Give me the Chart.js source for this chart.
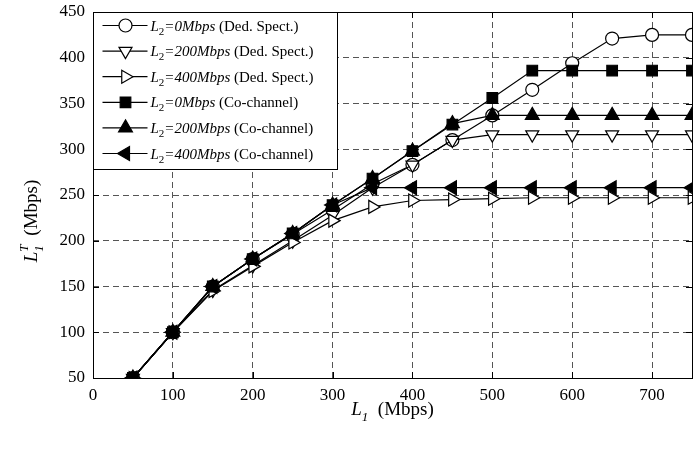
<!DOCTYPE html>
<html><head><meta charset="utf-8">
<script src="https://cdn.jsdelivr.net/npm/chart.js@4/dist/chart.umd.min.js"></script>
<style>html,body{margin:0;padding:0;background:#fff}#wrap{width:697px;height:449px}</style>
</head><body><div id="wrap"><canvas id="c" width="697" height="449"></canvas></div>
<script>
const loads = [50,100,150,200,250,300,350,400,450,500,550,600,650,700,750];
const xTicks = [0,100,200,300,400,500,600,700];
const yTicks = [50,100,150,200,250,300,350,400,450];
const ded0   = [50,100,150,180,207,234,262,283,310,337,365,394,421,425,425];
const ded200 = [50,100,146,173,200,228,258,283,310,316,316,316,316,316,316];
const ded400 = [50,100,145,172,198,222,237,244,245,246,247,247,247,247,247];
const co0    = [50,100,150,180,208,239,268,298,327,356,386,386,386,386,386];
const co200  = [50,100,150,180,208,239,268,298,328,337,337,337,337,337,337];
const co400  = [50,100,150,180,208,239,258,258,258,258,258,258,258,258,258];
const legendLoads = ['0Mbps','200Mbps','400Mbps','0Mbps','200Mbps','400Mbps'];
const legendKinds = ['Ded. Spect.','Ded. Spect.','Ded. Spect.','Co-channel','Co-channel','Co-channel'];

const SERIF = '"Liberation Serif", "Times New Roman", serif';
const styles = [
  {pointStyle:'circle', rotation:0, radius:6.5, fill:'#fff'},
  {pointStyle:'triangle', rotation:180, radius:7.5, fill:'#fff'},
  {pointStyle:'triangle', rotation:90, radius:7.5, fill:'#fff'},
  {pointStyle:'rect', rotation:0, radius:7.5, fill:'#000'},
  {pointStyle:'triangle', rotation:0, radius:8, fill:'#000'},
  {pointStyle:'triangle', rotation:270, radius:8, fill:'#000'}
];
const seriesData = [ded0, ded200, ded400, co0, co200, co400];

const datasets = seriesData.map((arr, i) => ({
  label: 'L2=' + legendLoads[i] + ' (' + legendKinds[i] + ')',
  data: loads.map((x, j) => ({x: x, y: arr[j]})),
  borderColor: '#000',
  borderWidth: 1.2,
  backgroundColor: styles[i].fill,
  pointStyle: styles[i].pointStyle,
  rotation: styles[i].rotation,
  pointRadius: styles[i].radius,
  pointBorderWidth: 1.2,
  pointBorderColor: '#000',
  pointBackgroundColor: styles[i].fill,
  tension: 0,
  fill: false,
  order: 6 - i
}));

function drawRich(ctx, parts, x, baseline) {
  let cx = x;
  for (const p of parts) {
    ctx.font = p.font;
    ctx.fillText(p.t, cx, baseline + (p.dy || 0));
    if (!p.noAdvance) cx += ctx.measureText(p.t).width;
  }
  return cx;
}
function richWidth(ctx, parts) {
  let w = 0;
  for (const p of parts) { ctx.font = p.font; if (!p.noAdvance) w += ctx.measureText(p.t).width; }
  return w;
}

const overlay = {
  id: 'overlay',
  afterDraw(chart) {
    const ctx = chart.ctx;
    const a = chart.chartArea;
    const xs = chart.scales.x, ys = chart.scales.y;
    ctx.save();
    ctx.strokeStyle = '#000';
    ctx.lineWidth = 1;
    ctx.setLineDash([]);
    ctx.strokeRect(Math.round(a.left) + 0.5, Math.round(a.top) + 0.5, Math.round(a.right - a.left), Math.round(a.bottom - a.top));
    ctx.beginPath();
    xTicks.forEach(v => {
      const px = Math.round(xs.getPixelForValue(v)) + 0.5;
      ctx.moveTo(px, a.bottom); ctx.lineTo(px, a.bottom - 6);
      ctx.moveTo(px, a.top); ctx.lineTo(px, a.top + 6);
    });
    yTicks.forEach(v => {
      const py = Math.round(ys.getPixelForValue(v)) + 0.5;
      ctx.moveTo(a.left, py); ctx.lineTo(a.left + 6, py);
      ctx.moveTo(a.right, py); ctx.lineTo(a.right - 6, py);
    });
    ctx.stroke();

    // legend
    const lx = Math.round(a.left) + 0.5, ly = Math.round(a.top) + 0.5;
    const lw = 244, lh = 157;
    ctx.fillStyle = '#fff';
    ctx.fillRect(lx, ly, lw, lh);
    ctx.strokeStyle = '#000';
    ctx.lineWidth = 1;
    ctx.strokeRect(lx, ly, lw, lh);
    const rowStep = 25.6;
    for (let i = 0; i < 6; i++) {
      const cy = ly + 13 + rowStep * i;
      ctx.strokeStyle = '#000';
      ctx.lineWidth = 1.2;
      ctx.beginPath();
      ctx.moveTo(lx + 9, cy); ctx.lineTo(lx + 54, cy);
      ctx.stroke();
      ctx.fillStyle = styles[i].fill;
      ctx.strokeStyle = '#000';
      Chart.helpers.drawPoint(ctx, {pointStyle: styles[i].pointStyle, rotation: styles[i].rotation, radius: styles[i].radius, borderWidth: 1.2}, lx + 32, cy);
      ctx.fillStyle = '#000';
      ctx.textBaseline = 'alphabetic';
      ctx.textAlign = 'left';
      drawRich(ctx, [
        {t: 'L', font: 'italic 15px ' + SERIF},
        {t: '2', font: '11px ' + SERIF, dy: 4},
        {t: '=' + legendLoads[i], font: 'italic 15px ' + SERIF},
        {t: ' (' + legendKinds[i] + ')', font: '15px ' + SERIF}
      ], lx + 57, cy + 5);
    }

    // x title
    ctx.fillStyle = '#000';
    ctx.textAlign = 'left';
    const xParts = [
      {t: 'L', font: 'italic 19px ' + SERIF},
      {t: '1', font: 'italic 13px ' + SERIF, dy: 6},
      {t: '  (Mbps)', font: '19px ' + SERIF}
    ];
    const xw = richWidth(ctx, xParts);
    drawRich(ctx, xParts, (a.left + a.right) / 2 - xw / 2, 415);

    // y title
    ctx.save();
    ctx.translate(37, (a.top + a.bottom) / 2 + 26);
    ctx.rotate(-Math.PI / 2);
    const yParts = [
      {t: 'L', font: 'italic 19px ' + SERIF},
      {t: 'T', font: 'italic 13px ' + SERIF, dy: -9, noAdvance: true},
      {t: '1', font: 'italic 13px ' + SERIF, dy: 6},
      {t: '  (Mbps)', font: '19px ' + SERIF}
    ];
    const yw = richWidth(ctx, yParts);
    drawRich(ctx, yParts, -yw / 2, 0);
    ctx.restore();
    ctx.restore();
  }
};

new Chart(document.getElementById('c'), {
  type: 'line',
  data: { datasets },
  plugins: [overlay],
  options: {
    responsive: false,
    animation: false,
    devicePixelRatio: 1,
    layout: { autoPadding: false, padding: { top: 12, right: 5, left: 0, bottom: 0 } },
    plugins: { legend: { display: false }, tooltip: { enabled: false } },
    scales: {
      x: {
        type: 'linear', min: 0, max: 750,
        afterBuildTicks: s => { s.ticks = xTicks.map(v => ({value: v})); },
        afterFit: s => { s.height = 71; s.paddingLeft = 0; s.paddingRight = 0; },
        ticks: { color: '#000', font: { family: SERIF, size: 17 }, padding: 7, maxRotation: 0 },
        grid: { color: '#555', lineWidth: 1, drawTicks: false },
        border: { display: false, dash: [6, 4] }
      },
      y: {
        type: 'linear', min: 50, max: 450,
        afterBuildTicks: s => { s.ticks = yTicks.map(v => ({value: v})); },
        afterFit: s => { s.width = 93; s.paddingTop = 0; s.paddingBottom = 0; },
        ticks: { color: '#000', font: { family: SERIF, size: 17 }, padding: 8 },
        grid: { color: '#555', lineWidth: 1, drawTicks: false },
        border: { display: false, dash: [6, 4] }
      }
    }
  }
});
</script></body></html>
